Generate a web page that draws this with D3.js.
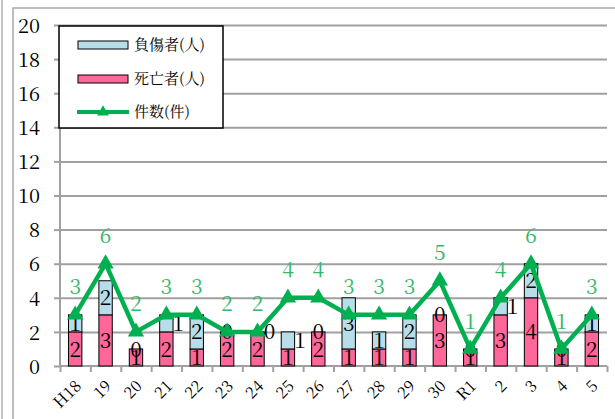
<!DOCTYPE html>
<html><head><meta charset="utf-8">
<script src="https://cdn.jsdelivr.net/npm/d3@7"></script>
<style>body{margin:0;background:#fff;overflow:hidden}</style>
</head><body><svg id="c" width="615" height="419"></svg>
<script>
const categories = ["H18","19","20","21","22","23","24","25","26","27","28","29","30","R1","2","3","4","5"];
const deaths    = [2,3,1,2,1,2,2,1,2,1,1,1,3,1,3,4,1,2];
const injured   = [1,2,0,1,2,0,0,1,0,3,1,2,0,0,1,2,0,1];
const incidents = [3,6,2,3,3,2,2,4,4,3,3,3,5,1,4,6,1,3];
const yTicks = [0,2,4,6,8,10,12,14,16,18,20];
const seriesNames = ["負傷者(人)","死亡者(人)","件数(件)"];
const shiftedInjuredLabels = ["21","24","25","2"];

const svg = d3.select("#c");
const L = 60, R = 607, T = 25, B = 366;
const SF = '"Noto Serif CJK JP"';
const gridCol = "#a0a0a0";
const pink = "#ff6699", blue = "#b7dee8", green = "#00b050", lblGreen = "#35b866";
const setFont = (sel, size) => sel.style("font-family", SF).style("font-size", size + "px");

svg.append("rect").attr("width",615).attr("height",419).attr("fill","#fff");
svg.append("line").attr("x1",2).attr("x2",2).attr("y1",0).attr("y2",419).attr("stroke","#b0b0b0").attr("stroke-width",1.5);
svg.append("path").attr("d","M13,419V8H615").attr("fill","none").attr("stroke","#a8a8a8").attr("stroke-width",1.5);

const x = d3.scaleBand().domain(categories).range([L,R]).padding(0);
const xb = d3.scaleLinear().domain([0,categories.length]).range([L,R]);
const y = d3.scaleLinear().domain([0,20]).range([B,T]);
const bw = x.bandwidth()*0.44;
const cx = c => x(c) + x.bandwidth()/2;

const grid = svg.append("g").attr("transform",`translate(${L},0)`)
  .call(d3.axisLeft(y).tickValues(yTicks.filter(v=>v>0)).tickSize(-(R-L)).tickFormat(""));
grid.select(".domain").remove();
grid.selectAll("line").attr("stroke",gridCol).attr("stroke-width",2);

const ya = svg.append("g").attr("transform",`translate(${L},0)`)
  .call(d3.axisLeft(y).tickValues(yTicks).tickSize(6).tickPadding(14));
ya.attr("font-family",null).attr("font-size",null);
ya.select(".domain").attr("stroke",gridCol).attr("stroke-width",2).attr("d",`M0,${T}V${B}`);
ya.selectAll("line").attr("stroke",gridCol).attr("stroke-width",2);
setFont(ya.selectAll("text"),20).attr("fill","#000").attr("dy","0.36em");

const xa = svg.append("g").attr("transform",`translate(0,${B})`)
  .call(d3.axisBottom(xb).tickValues(d3.range(categories.length+1)).tickSize(6).tickFormat(""));
xa.select(".domain").attr("stroke",gridCol).attr("stroke-width",2).attr("d",`M${L},0H${R}`);
xa.selectAll("line").attr("stroke",gridCol).attr("stroke-width",2);

const xl = svg.append("g").attr("transform",`translate(0,${B})`)
  .call(d3.axisBottom(x).tickSize(0).tickPadding(0));
xl.attr("font-family",null).attr("font-size",null);
xl.select(".domain").remove();
setFont(xl.selectAll("text"),16).attr("fill","#000")
  .attr("text-anchor","end").attr("dy",null).attr("y",null)
  .attr("transform","translate(7,21) rotate(-45)");

const bars = svg.append("g");
categories.forEach((c,i)=>{
  bars.append("rect").attr("x",cx(c)-bw/2).attr("width",bw)
    .attr("y",y(deaths[i])).attr("height",y(0)-y(deaths[i]))
    .attr("fill",pink).attr("stroke","#000").attr("stroke-width",1);
  if (injured[i]>0) bars.append("rect").attr("x",cx(c)-bw/2).attr("width",bw)
    .attr("y",y(deaths[i]+injured[i])).attr("height",y(deaths[i])-y(deaths[i]+injured[i]))
    .attr("fill",blue).attr("stroke","#000").attr("stroke-width",1);
});
const bl = svg.append("g").attr("text-anchor","middle");
categories.forEach((c,i)=>{
  setFont(bl.append("text"),21).attr("fill","#000")
    .attr("x",cx(c)).attr("y",y(deaths[i]/2)).attr("dy","0.36em").text(deaths[i]);
  const sx = shiftedInjuredLabels.includes(c) ? 12 : 0;
  setFont(bl.append("text"),21).attr("fill","#000")
    .attr("x",cx(c)+sx).attr("y",y(deaths[i]+injured[i]/2)).attr("dy","0.36em").text(injured[i]);
});

const line = d3.line().x((d,i)=>cx(categories[i])).y(d=>y(d));
svg.append("path").datum(incidents).attr("d",line).attr("fill","none")
  .attr("stroke",green).attr("stroke-width",4.5).attr("stroke-linejoin","miter");
const tri = d3.symbol().type(d3.symbolTriangle).size(115);
svg.append("g").selectAll("path").data(incidents).join("path")
  .attr("d",tri).attr("fill",green)
  .attr("transform",(d,i)=>`translate(${cx(categories[i])},${y(d)})`);
setFont(svg.append("g").selectAll("text").data(incidents).join("text"),21)
  .attr("x",(d,i)=>cx(categories[i])).attr("y",d=>y(d)-28).attr("dy","0.36em")
  .attr("text-anchor","middle").attr("fill",lblGreen).text(d=>d);

const lg = svg.append("g");
lg.append("rect").attr("x",59).attr("y",26).attr("width",164).attr("height",102)
  .attr("fill","#fff").attr("stroke","#000").attr("stroke-width",1.5);
const rows = [45,79,112];
lg.append("rect").attr("x",78).attr("y",rows[0]-4).attr("width",50).attr("height",8).attr("fill",blue).attr("stroke","#000").attr("stroke-width",1);
lg.append("rect").attr("x",78).attr("y",rows[1]-4).attr("width",50).attr("height",8).attr("fill",pink).attr("stroke","#000").attr("stroke-width",1);
lg.append("line").attr("x1",77).attr("x2",129).attr("y1",rows[2]).attr("y2",rows[2]).attr("stroke",green).attr("stroke-width",4);
lg.append("path").attr("d",d3.symbol().type(d3.symbolTriangle).size(60)).attr("fill",green).attr("transform",`translate(103,${rows[2]})`);
seriesNames.forEach((n,i)=>{
  setFont(lg.append("text"),15).attr("x",134).attr("y",rows[i]).attr("dy","0.36em")
    .attr("fill","#000").text(n);
});
</script></body></html>
